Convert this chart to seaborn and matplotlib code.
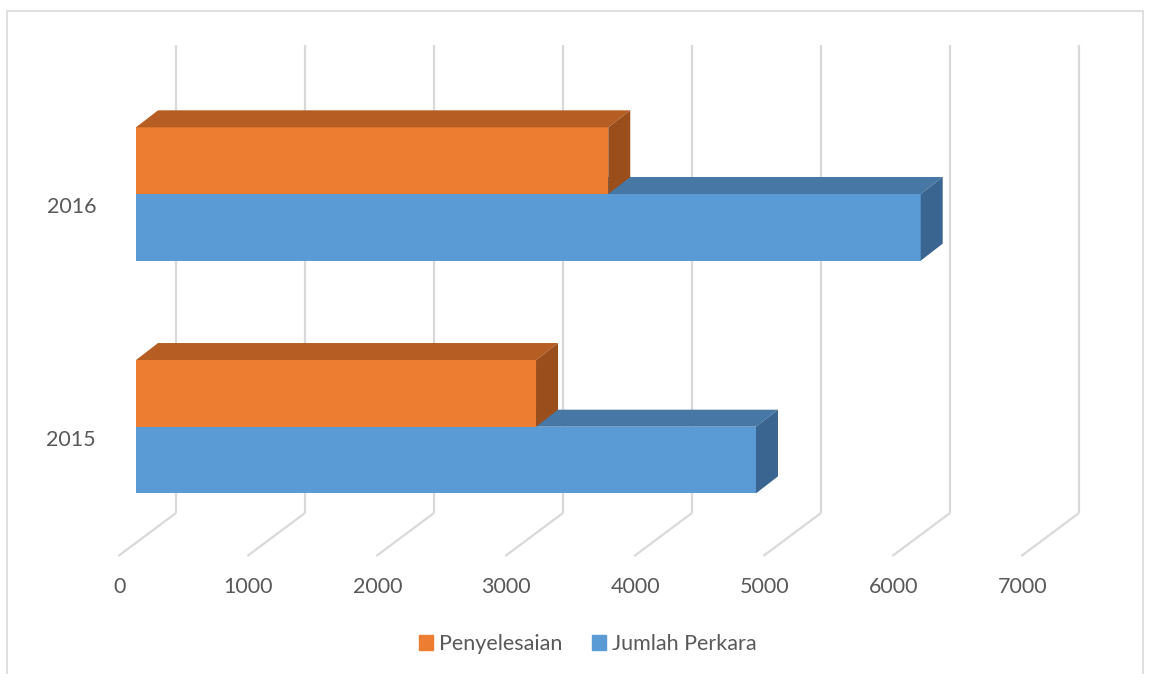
import matplotlib
matplotlib.use("Agg")
import matplotlib.pyplot as plt
import matplotlib.patches as mpatches
import pandas as pd
import seaborn as sns

# data
years = ["2016", "2015"]
series = ["Penyelesaian", "Jumlah Perkara"]
penyelesaian = [3661, 3101]
jumlah_perkara = [6083, 4806]
x_ticks = [0, 1000, 2000, 3000, 4000, 5000, 6000, 7000]

ORANGE = "#ED7D31"
BLUE = "#5B9BD5"
shade = {
    ORANGE: ("#B55D22", "#9A4E1B"),  # top, side
    BLUE: ("#4677A5", "#3A6591"),
}
GRID = "#D9D9D9"
TEXT = "#595959"

df = pd.DataFrame({
    "Tahun": years * 2,
    "Seri": [series[0]] * 2 + [series[1]] * 2,
    "Nilai": penyelesaian + jumlah_perkara,
})

sns.set_theme(style="white")
plt.rcParams["font.family"] = ["Lato", "DejaVu Sans"]

W, H = 1152, 674
fig = plt.figure(figsize=(W / 100, H / 100), dpi=100)
ax = fig.add_axes([0, 0, 1, 1])

sns.barplot(
    data=df, y="Tahun", x="Nilai", hue="Seri",
    order=years, hue_order=series, palette=[ORANGE, BLUE],
    orient="h", width=0.573, saturation=1, errorbar=None,
    legend=False, linewidth=0, ax=ax,
)

# map pixels of the 3d-ish front plane onto data units
PX = 0.129        # pixels per value unit
PY = 232.7        # pixels per category step
X0, Y0 = 136, 194
ax.set_xlim(-X0 / PX, (W - X0) / PX)
ax.set_ylim((H - Y0) / PY, -Y0 / PY)
ax.axis("off")
DX, DY = 1 / PX, 1 / PY


def py(p):
    return (p - Y0) / PY


# back wall + floor gridlines
for v in x_ticks:
    xb = v + 40 * DX
    ax.plot([xb, xb], [py(45), py(513)], color=GRID, lw=1.6, zorder=1,
            solid_capstyle="butt")
    ax.plot([xb, v - 17.7 * DX], [py(513), py(556)], color=GRID, lw=1.6,
            zorder=1, solid_capstyle="butt")
    ax.text(v - 16.7 * DX, py(586.7), str(v), ha="center", va="center",
            fontsize=15.5, color=TEXT)

# depth faces for each bar
ddx, ddy = 22 * DX, -17 * DY
for bar in list(ax.patches):
    x, y = bar.get_x(), bar.get_y()
    w, h = bar.get_width(), bar.get_height()
    col = matplotlib.colors.to_hex(bar.get_facecolor()).upper()
    z = 3 if col == ORANGE else 2
    bar.set_zorder(z)
    top_c, side_c = shade[col]
    top = [(x, y), (x + w, y), (x + w + ddx, y + ddy), (x + ddx, y + ddy)]
    side = [(x + w, y), (x + w, y + h), (x + w + ddx, y + h + ddy),
            (x + w + ddx, y + ddy)]
    ax.add_patch(mpatches.Polygon(top, closed=True, fc=top_c, ec="none", zorder=z))
    ax.add_patch(mpatches.Polygon(side, closed=True, fc=side_c, ec="none", zorder=z))

# category labels
for i, yr in enumerate(years):
    ax.text((96 - X0) * DX, i + 13.3 * DY, yr, ha="right", va="center",
            fontsize=15.5, color=TEXT)

handles = [mpatches.Patch(color=ORANGE, label=series[0]),
           mpatches.Patch(color=BLUE, label=series[1])]
fig.legend(handles=handles, loc="center", bbox_to_anchor=(588 / W, 1 - 644 / H),
           ncol=2, frameon=False, fontsize=15.5, labelcolor=TEXT,
           handlelength=0.65, handleheight=0.65, handletextpad=0.28,
           columnspacing=1.4)

# chart border
fig.patches.append(mpatches.Rectangle(
    (7 / W, -0.02), (1143 - 7) / W, 1.02 - 10.7 / H, transform=fig.transFigure,
    fill=False, ec=GRID, lw=1.2))

fig.savefig("out.png", dpi=100)
